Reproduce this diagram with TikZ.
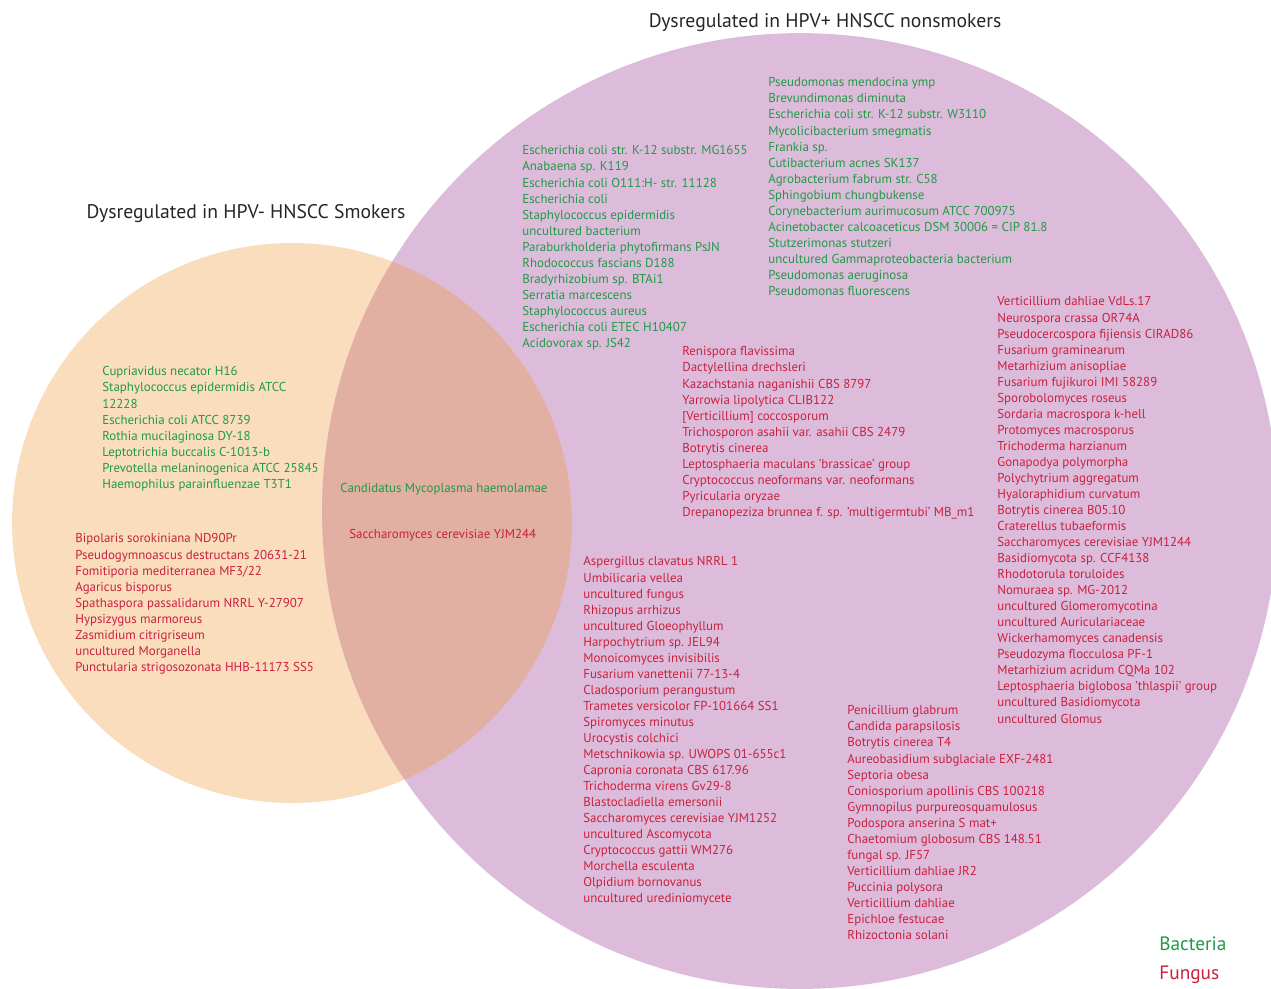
\documentclass[tikz,border=0pt]{standalone}
\usepackage{fontspec}
\setmainfont{PT Sans}
\usepackage{tikz}
\usetikzlibrary{positioning}
\definecolor{smokerfill}{HTML}{FADDBC}
\definecolor{nonsmokerfill}{HTML}{DDBCDB}
\definecolor{overlapfill}{HTML}{E2B0A2}
\definecolor{bactgreen}{HTML}{1F9A46}
\definecolor{fungred}{HTML}{C9203E}
\tikzstyle{species}=[inner sep=0pt, align=left, anchor=north west, font=\fontsize{7.35}{9.13}\selectfont]
\tikzstyle{bacteria}=[species, text=bactgreen]
\tikzstyle{fungus}=[species, text=fungred]
\tikzstyle{set title}=[inner sep=0pt, font=\fontsize{11.2}{13}\selectfont, text=black!85]
\tikzstyle{legend entry}=[inner sep=0pt, anchor=west, font=\fontsize{11}{13}\selectfont]

\begin{document}
\begin{tikzpicture}[x=0.02cm, y=-0.02cm]
  \useasboundingbox (0,0) rectangle (1271,988);
  \clip (0,0) rectangle (1271,988);

  % the two sets and their overlap
  \fill[smokerfill] (292,523) circle[radius=5.6cm];
  \fill[nonsmokerfill] (800,511) circle[radius=9.56cm];
  \begin{scope}
    \clip (292,523) circle[radius=5.6cm];
    \fill[overlapfill] (800,511) circle[radius=9.56cm];
  \end{scope}

  \node[set title] (smokers) at (246,214) {Dysregulated in HPV- HNSCC Smokers};
  \node[set title] (nonsmokers) at (825,23) {Dysregulated in HPV+ HNSCC nonsmokers};

  % HPV- smokers only
  \node[bacteria] (smokerbact) at (102,366.4) {Cupriavidus necator H16\\Staphylococcus epidermidis ATCC\\12228\\Escherichia coli ATCC 8739\\Rothia mucilaginosa DY-18\\Leptotrichia buccalis C-1013-b\\Prevotella melaninogenica ATCC 25845\\Haemophilus parainfluenzae T3T1};
  \node[fungus] (smokerfung) at (75,533.4) {Bipolaris sorokiniana ND90Pr\\Pseudogymnoascus destructans 20631-21\\Fomitiporia mediterranea MF3/22\\Agaricus bisporus\\Spathaspora passalidarum NRRL Y-27907\\Hypsizygus marmoreus\\Zasmidium citrigriseum\\uncultured Morganella\\Punctularia strigosozonata HHB-11173 SS5};

  % shared
  \node[bacteria, anchor=west] (sharedbact) at (340,489) {Candidatus Mycoplasma haemolamae};
  \node[fungus, anchor=west] (sharedfung) at (349,535) {Saccharomyces cerevisiae YJM244};

  % HPV+ nonsmokers only
  \node[bacteria] (nonsmokerbact1) at (522,145.4) {Escherichia coli str. K-12 substr. MG1655\\Anabaena sp. K119\\Escherichia coli O111:H- str. 11128\\Escherichia coli\\Staphylococcus epidermidis\\uncultured bacterium\\Paraburkholderia phytofirmans PsJN\\Rhodococcus fascians D188\\Bradyrhizobium sp. BTAi1\\Serratia marcescens\\Staphylococcus aureus\\Escherichia coli ETEC H10407\\Acidovorax sp. JS42};
  \node[bacteria] (nonsmokerbact2) at (768,77.4) {Pseudomonas mendocina ymp\\Brevundimonas diminuta\\Escherichia coli str. K-12 substr. W3110\\Mycolicibacterium smegmatis\\Frankia sp.\\Cutibacterium acnes SK137\\Agrobacterium fabrum str. C58\\Sphingobium chungbukense\\Corynebacterium aurimucosum ATCC 700975\\Acinetobacter calcoaceticus DSM 30006 = CIP 81.8\\Stutzerimonas stutzeri\\uncultured Gammaproteobacteria bacterium\\Pseudomonas aeruginosa\\Pseudomonas fluorescens};
  \node[fungus] (nonsmokerfung1) at (682,346.4) {Renispora flavissima\\Dactylellina drechsleri\\Kazachstania naganishii CBS 8797\\Yarrowia lipolytica CLIB122\\{[Verticillium]} coccosporum\\Trichosporon asahii var. asahii CBS 2479\\Botrytis cinerea\\Leptosphaeria maculans 'brassicae' group\\Cryptococcus neoformans var. neoformans\\Pyricularia oryzae\\Drepanopeziza brunnea f. sp. 'multigermtubi' MB\_m1};
  \node[fungus] (nonsmokerfung2) at (583,556.4) {Aspergillus clavatus NRRL 1\\Umbilicaria vellea\\uncultured fungus\\Rhizopus arrhizus\\uncultured Gloeophyllum\\Harpochytrium sp. JEL94\\Monoicomyces invisibilis\\Fusarium vanettenii 77-13-4\\Cladosporium perangustum\\Trametes versicolor FP-101664 SS1\\Spiromyces minutus\\Urocystis colchici\\Metschnikowia sp. UWOPS 01-655c1\\Capronia coronata CBS 617.96\\Trichoderma virens Gv29-8\\Blastocladiella emersonii\\Saccharomyces cerevisiae YJM1252\\uncultured Ascomycota\\Cryptococcus gattii WM276\\Morchella esculenta\\Olpidium bornovanus\\uncultured urediniomycete};
  \node[fungus] (nonsmokerfung3) at (997,296.4) {Verticillium dahliae VdLs.17\\Neurospora crassa OR74A\\Pseudocercospora fijiensis CIRAD86\\Fusarium graminearum\\Metarhizium anisopliae\\Fusarium fujikuroi IMI 58289\\Sporobolomyces roseus\\Sordaria macrospora k-hell\\Protomyces macrosporus\\Trichoderma harzianum\\Gonapodya polymorpha\\Polychytrium aggregatum\\Hyaloraphidium curvatum\\Botrytis cinerea B05.10\\Craterellus tubaeformis\\Saccharomyces cerevisiae YJM1244\\Basidiomycota sp. CCF4138\\Rhodotorula toruloides\\Nomuraea sp. MG-2012\\uncultured Glomeromycotina\\uncultured Auriculariaceae\\Wickerhamomyces canadensis\\Pseudozyma flocculosa PF-1\\Metarhizium acridum CQMa 102\\Leptosphaeria biglobosa 'thlaspii' group\\uncultured Basidiomycota\\uncultured Glomus};
  \node[fungus] (nonsmokerfung4) at (847,705.4) {Penicillium glabrum\\Candida parapsilosis\\Botrytis cinerea T4\\Aureobasidium subglaciale EXF-2481\\Septoria obesa\\Coniosporium apollinis CBS 100218\\Gymnopilus purpureosquamulosus\\Podospora anserina S mat+\\Chaetomium globosum CBS 148.51\\fungal sp. JF57\\Verticillium dahliae JR2\\Puccinia polysora\\Verticillium dahliae\\Epichloe festucae\\Rhizoctonia solani};

  % legend
  \node[legend entry, text=bactgreen] (bacteria) at (1159,944) {Bacteria};
  \node[legend entry, text=fungred, below=8pt of bacteria.south west, anchor=north west] (fungus) {Fungus};
\end{tikzpicture}
\end{document}
